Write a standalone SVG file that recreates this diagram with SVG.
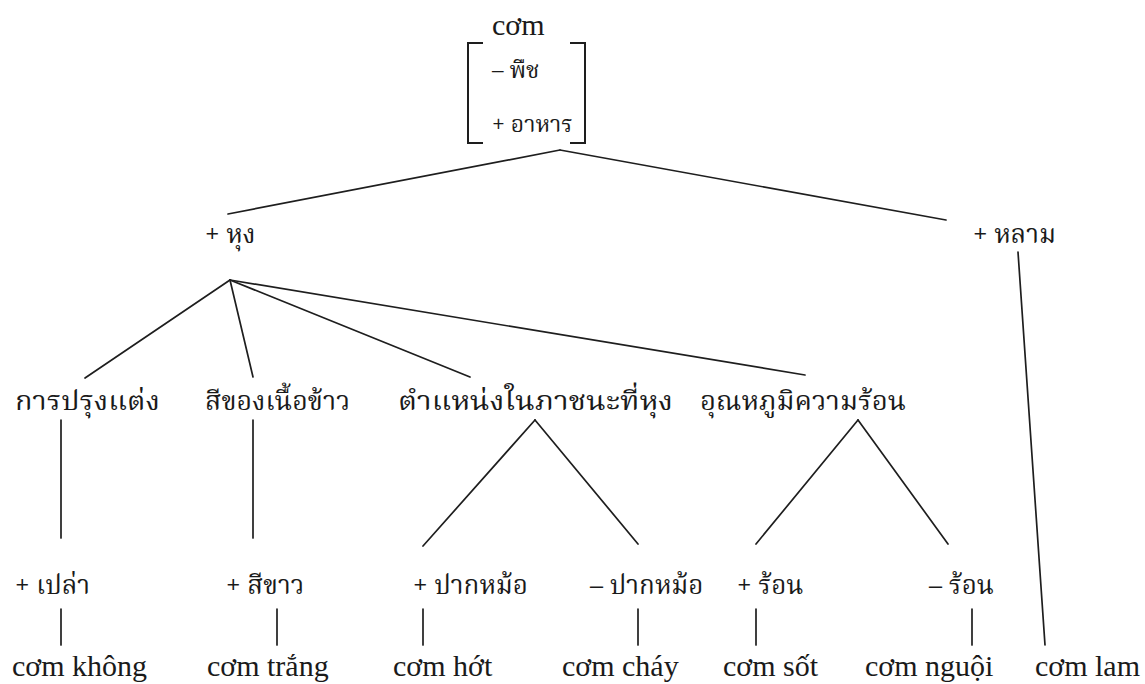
<svg xmlns="http://www.w3.org/2000/svg" width="1145" height="684" viewBox="0 0 1145 684">
  <style>
    .bg { fill: #ffffff; }
    .edge { stroke: #1e1e1e; stroke-width: 1.7; fill: none; stroke-linecap: round; }
    .brk { stroke: #1e1e1e; stroke-width: 2; fill: none; }
    .vi { font-family: "Liberation Serif", "Times New Roman", serif; font-size: 30px; fill: #1a1a1a; }
    .th { font-family: "Noto Serif Thai", "Norasi", "Kinnari", "Liberation Serif", serif; font-size: 26px; fill: #1a1a1a; }
    .thm { font-family: "Noto Serif Thai", "Norasi", "Kinnari", "Liberation Serif", serif; font-size: 23px; fill: #1a1a1a; }
  </style>
  <rect class="bg" x="0" y="0" width="1145" height="684"/>

  <!-- connectors -->
  <g id="connectors">
    <line class="edge" x1="560" y1="150" x2="228" y2="214"/>
    <line class="edge" x1="560" y1="150" x2="946" y2="220"/>
    <line class="edge" x1="230" y1="280" x2="85" y2="378"/>
    <line class="edge" x1="230" y1="280" x2="253" y2="377"/>
    <line class="edge" x1="230" y1="280" x2="470" y2="377"/>
    <line class="edge" x1="230" y1="280" x2="805" y2="375"/>
    <line class="edge" x1="61" y1="420" x2="61" y2="538"/>
    <line class="edge" x1="253" y1="420" x2="253" y2="538"/>
    <line class="edge" x1="535" y1="420" x2="423" y2="546"/>
    <line class="edge" x1="535" y1="420" x2="638" y2="544"/>
    <line class="edge" x1="858" y1="420" x2="756" y2="544"/>
    <line class="edge" x1="858" y1="420" x2="948" y2="544"/>
    <line class="edge" x1="61" y1="609" x2="61" y2="645"/>
    <line class="edge" x1="277" y1="609" x2="277" y2="645"/>
    <line class="edge" x1="423" y1="609" x2="423" y2="645"/>
    <line class="edge" x1="638" y1="609" x2="638" y2="645"/>
    <line class="edge" x1="756" y1="609" x2="756" y2="645"/>
    <line class="edge" x1="972" y1="609" x2="972" y2="645"/>
    <line class="edge" x1="1018" y1="252" x2="1045" y2="645"/>
  </g>

  <!-- root: feature matrix -->
  <g id="root">
    <text class="vi" x="492" y="35">cơm</text>
    <path class="brk" d="M483,43 H468 V143 H483"/>
    <path class="brk" d="M570,43 H585 V143 H570"/>
    <text class="thm" x="492" y="78">– พืช</text>
    <text class="thm" x="492" y="132">+ อาหาร</text>
  </g>

  <g id="n-hung"><text class="th" x="205" y="243">+ หุง</text></g>
  <g id="n-lam"><text class="th" x="973" y="243">+ หลาม</text></g>

  <g id="n-prung"><text class="th" x="15" y="410" textLength="145" lengthAdjust="spacingAndGlyphs">การปรุงแต่ง</text></g>
  <g id="n-si"><text class="th" x="205" y="410" textLength="145" lengthAdjust="spacingAndGlyphs">สีของเนื้อข้าว</text></g>
  <g id="n-tamnaeng"><text class="th" x="398" y="410" textLength="275" lengthAdjust="spacingAndGlyphs">ตำแหน่งในภาชนะที่หุง</text></g>
  <g id="n-unhaphum"><text class="th" x="700" y="410" textLength="206" lengthAdjust="spacingAndGlyphs">อุณหภูมิความร้อน</text></g>

  <g id="n-plao"><text class="th" x="15" y="594">+ เปล่า</text></g>
  <g id="n-sikhao"><text class="th" x="226" y="594">+ สีขาว</text></g>
  <g id="n-pakmo-p"><text class="th" x="413" y="594">+ ปากหม้อ</text></g>
  <g id="n-pakmo-m"><text class="th" x="590" y="594">– ปากหม้อ</text></g>
  <g id="n-ron-p"><text class="th" x="737" y="594">+ ร้อน</text></g>
  <g id="n-ron-m"><text class="th" x="929" y="594">– ร้อน</text></g>

  <g id="n-khong"><text class="vi" x="12" y="676">cơm không</text></g>
  <g id="n-trang"><text class="vi" x="207" y="676">cơm trắng</text></g>
  <g id="n-hot"><text class="vi" x="393" y="676">cơm hớt</text></g>
  <g id="n-chay"><text class="vi" x="562" y="676">cơm cháy</text></g>
  <g id="n-sot"><text class="vi" x="723" y="676">cơm sốt</text></g>
  <g id="n-nguoi"><text class="vi" x="865" y="676">cơm nguội</text></g>
  <g id="n-lamv"><text class="vi" x="1035" y="676">cơm lam</text></g>
</svg>
